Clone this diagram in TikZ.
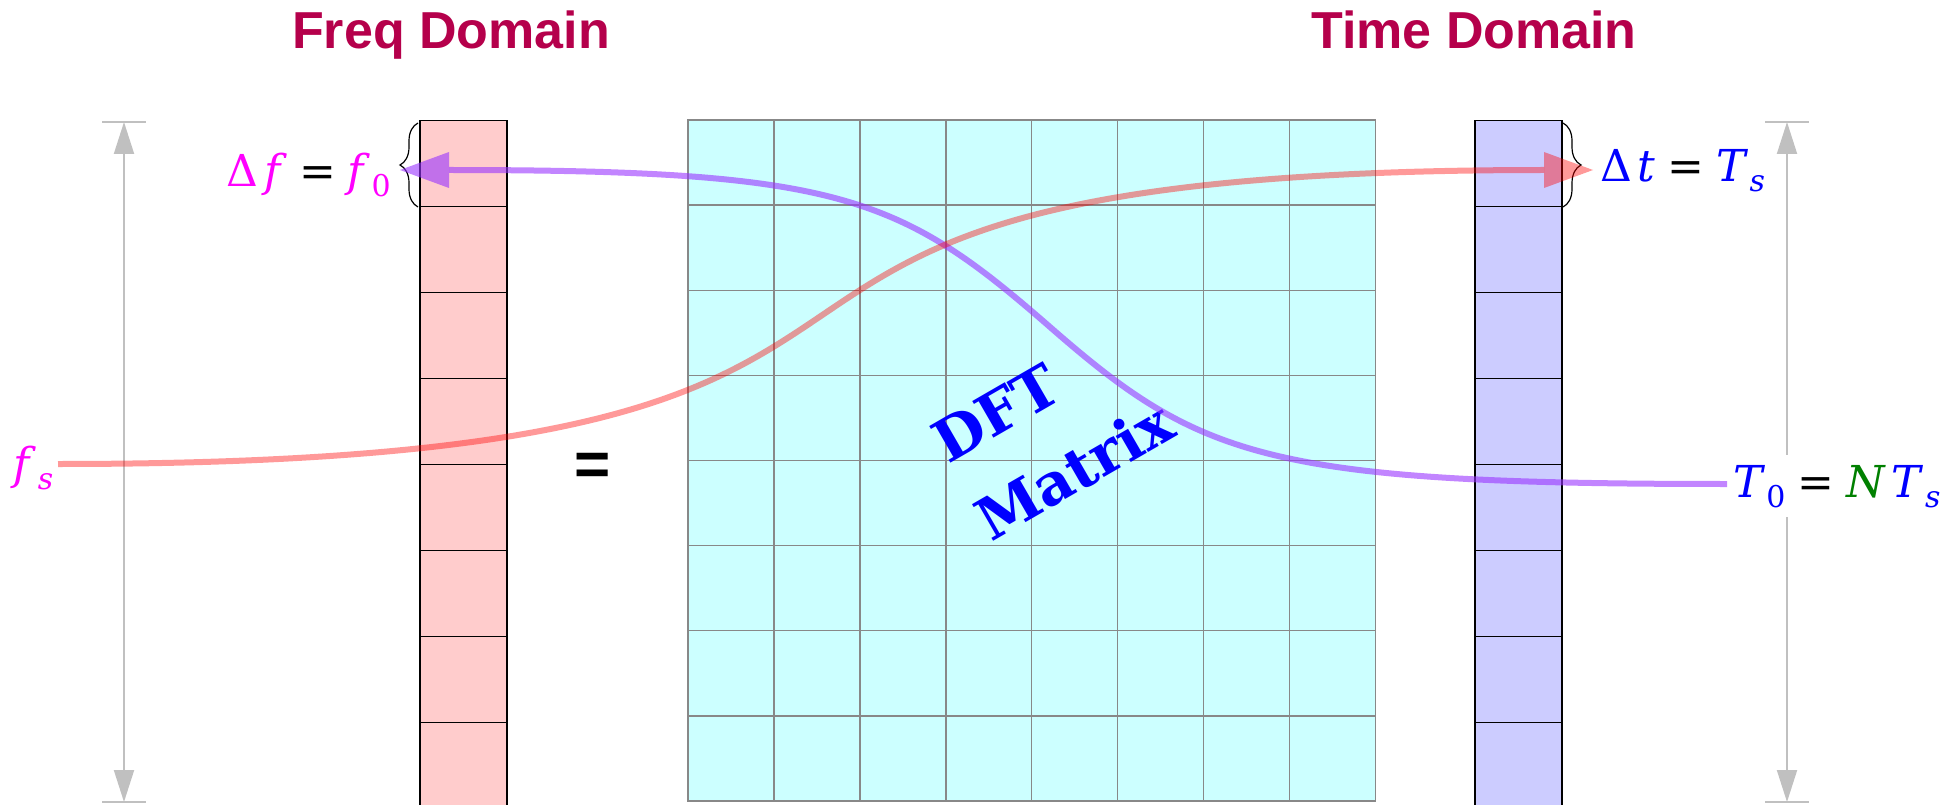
\documentclass[tikz,border=0pt]{standalone}
\usepackage{fontspec}
\usepackage{xcolor}
\usepackage{tikz}
\usetikzlibrary{calc,positioning,arrows.meta,decorations.pathreplacing}
\newfontfamily\titlefont{Liberation Sans}
\newfontfamily\labelfont{DejaVu Serif}
\definecolor{domaincrimson}{HTML}{B5004B}
\definecolor{freqtint}{HTML}{FFCCCC}
\definecolor{timetint}{HTML}{CCCCFF}
\definecolor{matrixtint}{HTML}{CCFFFF}
\definecolor{gridgrey}{HTML}{888888}
\definecolor{spangrey}{HTML}{C0C0C0}
\definecolor{sweepviolet}{HTML}{9933FF}
\definecolor{sweepred}{RGB}{255,0,0}
\definecolor{freqmagenta}{RGB}{255,0,255}
\definecolor{timeblue}{RGB}{0,0,255}
\definecolor{darkgreen}{RGB}{0,128,0}
\newcommand{\lowsub}[1]{\raisebox{-10pt}{\fontsize{30}{30}\selectfont#1}}

\begin{document}
\begin{tikzpicture}[x=1pt,y=-1pt,
    cellbox/.style={line width=1.5pt,minimum width=87pt,minimum height=86pt,inner sep=0pt,outer sep=0pt},
    freqcell/.style={cellbox,draw=black,fill=freqtint},
    timecell/.style={cellbox,draw=black,fill=timetint},
    dftcell/.style={cellbox,draw=gridgrey,fill=matrixtint,minimum width=85.9pt,minimum height=85.1pt},
    domaintitle/.style={font=\titlefont\fontsize{52}{60}\selectfont\bfseries,text=domaincrimson,inner sep=0pt,anchor=base},
    eqlabel/.style={font=\labelfont\fontsize{44}{50}\selectfont,inner sep=0pt},
    dftlabel/.style={font=\labelfont\fontsize{58}{64}\selectfont\bfseries,text=timeblue,inner sep=0pt,anchor=base west,rotate=30},
    spanline/.style={draw=spangrey,line width=2pt,{Triangle[length=32pt,width=20pt]}-{Triangle[length=32pt,width=20pt]}},
    spanbar/.style={draw=spangrey,line width=1.5pt},
    cellbrace/.style={decorate,decoration={brace,amplitude=18pt},line width=1.2pt},
    sweep/.style={line width=6pt,-{Triangle[length=49pt,width=36pt,line width=0pt]}}]
    \useasboundingbox (0,0) rectangle (1947,805);

    % spans of the two vectors
    \coordinate (fspantop) at (124,122);
    \coordinate (fspanbot) at (124,802);
    \coordinate (tspantop) at (1787,122);
    \coordinate (tspanbot) at (1787,802);
    \foreach \p in {fspantop,fspanbot,tspantop,tspanbot} {
      \draw[spanbar] ([xshift=-22pt]\p) -- ([xshift=22pt]\p);
    }
    \draw[spanline] (fspantop) -- (fspanbot);
    \draw[spanline] (tspantop) -- (tspanbot);

    % vectors and matrix
    \foreach \r in {0,...,7} {
      \node[freqcell] (f\r) at (463.5,{163.7+\r*86}) {};
      \node[timecell] (t\r) at (1518.5,{163.7+\r*86}) {};
      \foreach \c in {0,...,7} {
        \node[dftcell] (m\r\c) at ({731+\c*85.9},{162.6+\r*85.1}) {};
      }
    }

    \node[domaintitle] (freqtitle) at (451,49) {Freq Domain};
    \node[domaintitle] (timetitle) at (1474,49) {Time Domain};
    \node[font=\titlefont\fontsize{62}{62}\selectfont\bfseries,inner sep=0pt,anchor=base] (eqsign) at (593,485) {=};

    \node[dftlabel] (dft) at (948,465) {DFT};
    \node[dftlabel] (mtx) at (991,543) {Matrix};

    % braces on the first cells
    \draw[cellbrace] (418,207) -- (418,123);
    \draw[cellbrace] (1563,123) -- (1563,207);

    % labels
    \node[eqlabel,anchor=base east] (dfreq) at (391,187) {{\color{freqmagenta}Δ\hspace{6pt}\textit{f}}\hspace{12pt}=\hspace{12pt}{\color{freqmagenta}\textit{f}\hspace{1pt}\lowsub{0}}};
    \node[eqlabel,anchor=base west] (dtime) at (1600,182) {{\color{timeblue}Δ\hspace{6pt}\textit{t}}\hspace{12pt}=\hspace{12pt}{\color{timeblue}\textit{T}\hspace{1pt}\lowsub{\itshape s}}};
    \node[eqlabel,anchor=base west] (fsamp) at (13,479) {{\color{freqmagenta}\textit{f}\hspace{2pt}\lowsub{\itshape s}}};
    \node[eqlabel,anchor=base west,fill=white,inner xsep=2pt,inner ysep=10pt] (tperiod) at (1731,497) {{\color{timeblue}\textit{T}\hspace{1pt}\lowsub{0}}\hspace{12pt}=\hspace{12pt}{\color{darkgreen}\textit{N}}\hspace{6pt}{\color{timeblue}\textit{T}\hspace{1pt}\lowsub{\itshape s}}};

    % sweeps between the labels
    \coordinate (fsout) at (58,464);
    \coordinate (timetip) at (1593,170);
    \coordinate (periodout) at (1727,484);
    \coordinate (freqtip) at (400,170);
    \coordinate (periodmid) at (1050,327);
    \draw[sweep,draw=sweepviolet,opacity=0.6] (periodout) .. controls +(-460,0) and +(150,131) .. (periodmid) .. controls +(-150,-131) and +(440,0) .. (freqtip);
    \draw[sweep,draw=sweepred,opacity=0.4] (fsout) .. controls +(1075,0) and +(-1075,0) .. (timetip);
\end{tikzpicture}
\end{document}
